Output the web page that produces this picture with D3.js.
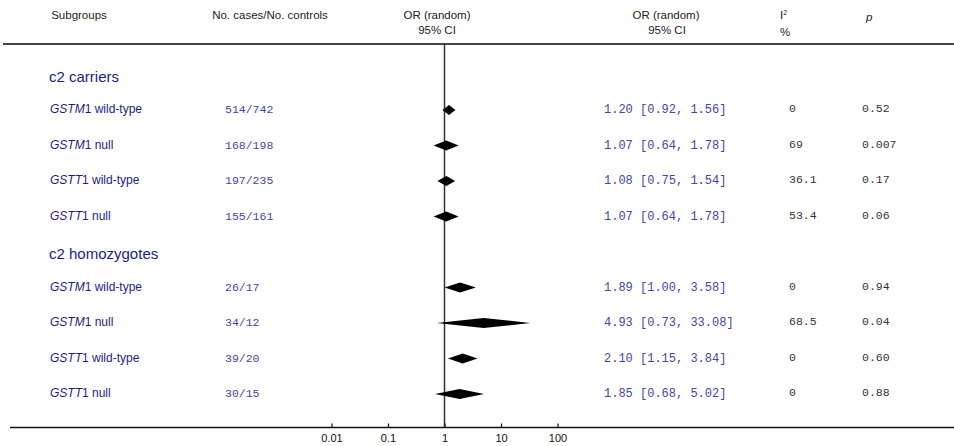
<!DOCTYPE html>
<html>
<head>
<meta charset="utf-8">
<script src="https://cdn.jsdelivr.net/npm/d3@7"></script>
<style>
  body { margin: 0; background: #fff; }
  text { font-family: "Liberation Sans", Arial, sans-serif; }
  .mono { font-family: "Liberation Mono", "Courier New", monospace; }
</style>
</head>
<body>
<div id="chart"></div>
<script>
const width = 954
const height = 446

// datos
const groups = ["c2 carriers", "c2 homozygotes"]
const groupOf = [0, 0, 0, 0, 1, 1, 1, 1]
const subgroups = ["GSTM1 wild-type", "GSTM1 null", "GSTT1 wild-type", "GSTT1 null",
                   "GSTM1 wild-type", "GSTM1 null", "GSTT1 wild-type", "GSTT1 null"]
const cases = [514, 168, 197, 155, 26, 34, 39, 30]
const controls = [742, 198, 235, 161, 17, 12, 20, 15]
const orValue = [1.20, 1.07, 1.08, 1.07, 1.89, 4.93, 2.10, 1.85]
const ciLow = [0.92, 0.64, 0.75, 0.64, 1.00, 0.73, 1.15, 0.68]
const ciHigh = [1.56, 1.78, 1.54, 1.78, 3.58, 33.08, 3.84, 5.02]
const i2 = ["0", "69", "36.1", "53.4", "0", "68.5", "0", "0"]
const pValue = ["0.52", "0.007", "0.17", "0.06", "0.94", "0.04", "0.60", "0.88"]
const tickValues = [0.01, 0.1, 1, 10, 100]

const navy = "#1c1c88"
const blue = "#4444a6"

const svg = d3.select('#chart').append('svg').attr('width', width).attr('height', height)

// escalas
const x = d3.scaleLog().domain([0.01, 100]).range([331.5, 557.5])
const slot = d3.scaleLinear().domain([1, 9]).range([110, 394])
const axisY = 427.5
const headY = 44

// cabecera
const head = svg.append('g').attr('class', 'head').attr('font-size', 11.5).attr('fill', '#222')
head.append('text').attr('x', 79).attr('y', 19).attr('text-anchor', 'middle').text('Subgroups')
head.append('text').attr('x', 270).attr('y', 19).attr('text-anchor', 'middle').text('No. cases/No. controls')
head.append('text').attr('x', 437).attr('y', 19).attr('text-anchor', 'middle').text('OR (random)')
head.append('text').attr('x', 437).attr('y', 34).attr('text-anchor', 'middle').text('95% CI')
head.append('text').attr('x', 666).attr('y', 19).attr('text-anchor', 'middle').text('OR (random)')
head.append('text').attr('x', 667).attr('y', 34).attr('text-anchor', 'middle').text('95% CI')
const iText = head.append('text').attr('x', 780).attr('y', 19)
iText.append('tspan').text('I')
iText.append('tspan').attr('font-size', 7).attr('dy', -4).text('2')
head.append('text').attr('x', 780).attr('y', 36).text('%')
head.append('text').attr('x', 866).attr('y', 21).attr('font-style', 'italic').text('p')

svg.append('line').attr('x1', 3).attr('x2', width).attr('y1', headY).attr('y2', headY)
    .attr('stroke', '#444').attr('stroke-width', 2)

// linea de OR = 1
svg.append('line').attr('x1', x(1)).attr('x2', x(1)).attr('y1', headY).attr('y2', axisY)
    .attr('stroke', '#333').attr('stroke-width', 1.5)

// eje
svg.append('line').attr('x1', 10).attr('x2', width).attr('y1', axisY).attr('y2', axisY)
    .attr('stroke', '#111').attr('stroke-width', 1.5)
const xAxis = d3.axisBottom(x).tickValues(tickValues).tickFormat(d => String(d))
    .tickSize(-4).tickPadding(7)
const xAxisGroup = svg.append('g').attr('transform', `translate(0, ${axisY})`).call(xAxis)
xAxisGroup.select('.domain').remove()
xAxisGroup.selectAll('line').attr('stroke', '#111').attr('stroke-width', 1.2)
xAxisGroup.selectAll('text').attr('font-size', 11).attr('fill', '#111')
    .attr('font-family', '"Liberation Sans", Arial, sans-serif')

// grupos
svg.append('g').selectAll('text').data(groups).join('text')
    .attr('x', 49)
    .attr('y', (d, i) => slot(i * 5) + 2)
    .attr('dy', '0.35em')
    .attr('font-size', 15)
    .attr('fill', navy)
    .text(d => d)

const rows = subgroups.map((s, i) => ({ i, s, y: slot(i + groupOf[i] + 1) }))

// etiquetas de subgrupo, nombre del gen en cursiva
const labels = svg.append('g').selectAll('text').data(rows).join('text')
    .attr('x', 50)
    .attr('y', d => d.y - 1)
    .attr('dy', '0.35em')
    .attr('font-size', 12)
    .attr('fill', navy)
labels.append('tspan').attr('font-style', 'italic').text(d => d.s.match(/^(GST[MT])/)[1])
labels.append('tspan').text(d => d.s.replace(/^GST[MT]/, ''))

// casos / controles
svg.append('g').selectAll('text').data(rows).join('text')
    .attr('class', 'mono')
    .attr('x', 225)
    .attr('y', d => d.y - 1)
    .attr('dy', '0.35em')
    .attr('font-size', 11.5)
    .attr('fill', blue)
    .text(d => cases[d.i] + '/' + controls[d.i])

// diamantes
svg.append('g').selectAll('path').data(rows).join('path')
    .attr('d', d => {
        const h = 5
        return `M${x(ciLow[d.i])},${d.y} L${x(orValue[d.i])},${d.y - h} L${x(ciHigh[d.i])},${d.y} L${x(orValue[d.i])},${d.y + h} Z`
    })
    .attr('fill', '#000')

// OR y CI en texto
svg.append('g').selectAll('text').data(rows).join('text')
    .attr('class', 'mono')
    .attr('x', 604)
    .attr('y', d => d.y - 1)
    .attr('dy', '0.35em')
    .attr('font-size', 12)
    .attr('fill', blue)
    .text(d => `${orValue[d.i].toFixed(2)} [${ciLow[d.i].toFixed(2)}, ${ciHigh[d.i].toFixed(2)}]`)

// I2
svg.append('g').selectAll('text').data(rows).join('text')
    .attr('class', 'mono')
    .attr('x', 789)
    .attr('y', d => d.y - 2)
    .attr('dy', '0.35em')
    .attr('font-size', 11.5)
    .attr('fill', '#333')
    .text(d => i2[d.i])

// p
svg.append('g').selectAll('text').data(rows).join('text')
    .attr('class', 'mono')
    .attr('x', 862)
    .attr('y', d => d.y - 2)
    .attr('dy', '0.35em')
    .attr('font-size', 11.5)
    .attr('fill', '#333')
    .text(d => pValue[d.i])
</script>
</body>
</html>
